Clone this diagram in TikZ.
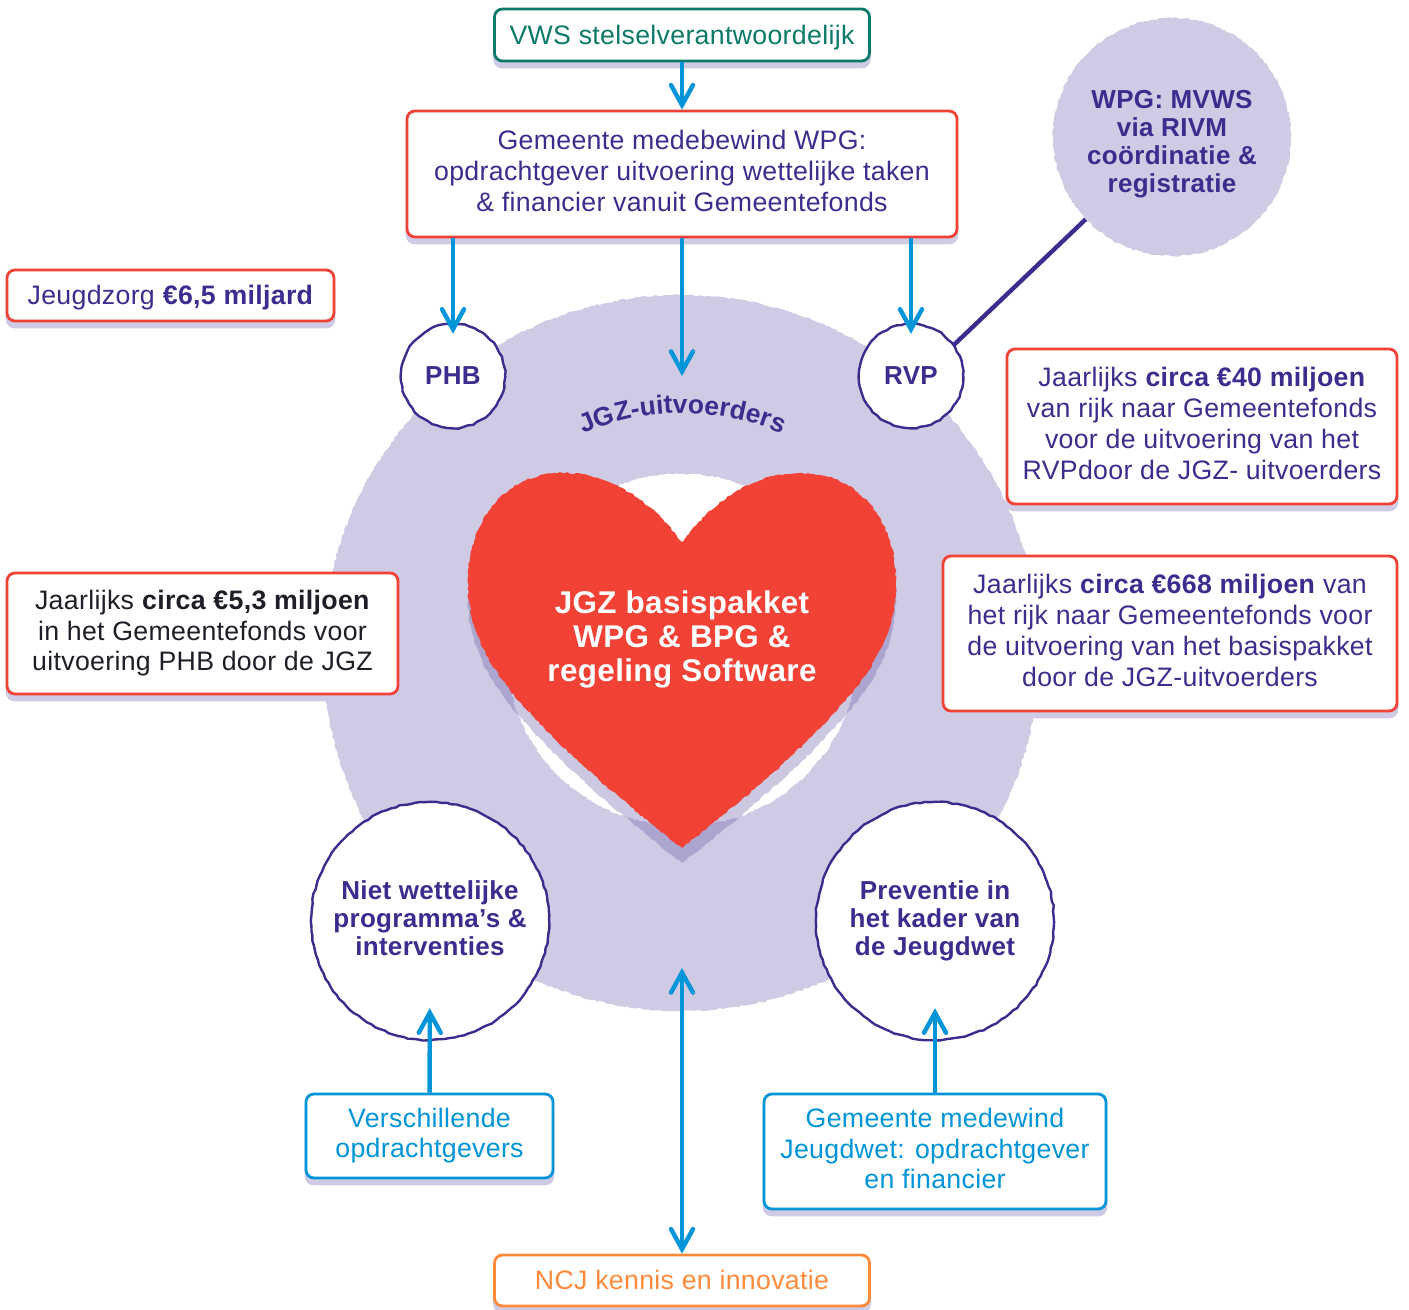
\documentclass[tikz,border=0pt]{standalone}
\usepackage{fontspec}
\setmainfont[LetterSpace=1.2]{Liberation Sans}
\usetikzlibrary{arrows.meta,decorations.pathmorphing,decorations.text}
\definecolor{lila}{HTML}{CFCBE4}
\definecolor{paars}{HTML}{3D2C8D}
\definecolor{rood}{HTML}{F24236}
\definecolor{blauw}{HTML}{0094D9}
\definecolor{groen}{HTML}{0C7A68}
\definecolor{oranje}{HTML}{FF8A3A}
\definecolor{schaduw}{HTML}{6356A7}
\definecolor{zwart}{HTML}{1E1E28}
\newcommand{\regelstut}{\rule[-.2\baselineskip]{0pt}{\baselineskip}}
\pgfmathsetseed{7}
\begin{document}
\begin{tikzpicture}[x=0.5pt,y=-0.5pt,
  ruw/.style={decorate,decoration={random steps,segment length=2.5pt,amplitude=0.35pt}},
  blob/.style={decorate,decoration={random steps,segment length=1.5pt,amplitude=0.45pt}},
  regels/.style={align=center,execute at begin node=\regelstut,execute at end node=\regelstut},
  doos/.style={draw=#1,line width=1.4pt,fill=white,rounded corners=4pt,regels,inner sep=0pt,
    font=\fontsize{13.35}{15.4}\selectfont,
    preaction={draw=lila,fill=lila,transform canvas={yshift=-3pt}}},
  rondje/.style={circle,draw=paars,line width=1.2pt,fill=white,ruw,regels,inner sep=0pt,text=paars,
    font=\fontsize{13}{14}\selectfont\bfseries},
  pijl/.style={draw=blauw,line width=2.2pt,-{Straight Barb[length=10pt,width=11pt,line cap=round]}}]
\useasboundingbox (0,0) rectangle (1409,1310);
\fill[lila,blob] (681,653) circle (358);
\fill[white,blob] (682,650) circle (176);
\def\hartpad{(682,542) .. controls (650,500) and (610,473) .. (563,473)
  .. controls (505,473) and (468,520) .. (468,583)
  .. controls (468,630) and (490,668) .. (520,702)
  .. controls (565,755) and (640,815) .. (682,848)
  .. controls (724,815) and (799,755) .. (844,702)
  .. controls (874,668) and (896,630) .. (896,583)
  .. controls (896,520) and (859,473) .. (801,473)
  .. controls (754,473) and (714,500) .. (682,542) -- cycle}
\begin{scope}[yshift=-7.5pt]
\fill[schaduw,opacity=0.32,blob] \hartpad;
\end{scope}
\fill[rood,blob] \hartpad;
\node[text=white,regels,font=\fontsize{15.7}{17}\selectfont\bfseries] (basispakket) at (682,640) {JGZ basispakket\\WPG \& BPG \&\\regeling Software};
\path[decorate,decoration={text along path,text color=paars,text align=center,
  text={|\fontsize{13.2}{14}\selectfont\bfseries|JGZ-uitvoerders}}]
  (575,438) .. controls (640,405) and (725,405) .. (790,438);

\node[doos=groen,text=groen,minimum width=187.5pt,minimum height=26pt] (vws) at (682,35) {VWS stelselverantwoordelijk};
\node[doos=rood,text=paars,minimum width=275pt,minimum height=63pt] (gem) at (682,174) {Gemeente medebewind WPG:\\opdrachtgever uitvoering wettelijke taken\\\& financier vanuit Gemeentefonds};
\node[doos=rood,text=paars,minimum width=163.5pt,minimum height=25.5pt] (jeugdzorg) at (170.5,295.5) {Jeugdzorg \textbf{€6,5 miljard}};
\node[doos=rood,text=paars,minimum width=195pt,minimum height=77.5pt] (rvpgeld) at (1202,426.5) {Jaarlijks \textbf{circa €40 miljoen}\\van rijk naar Gemeentefonds\\voor de uitvoering van het\\RVPdoor de JGZ- uitvoerders};
\node[doos=rood,text=paars,minimum width=227pt,minimum height=77.5pt] (basisgeld) at (1170,633.5) {Jaarlijks \textbf{circa €668 miljoen} van\\het rijk naar Gemeentefonds voor\\de uitvoering van het basispakket\\door de JGZ-uitvoerders};
\node[doos=rood,text=zwart,minimum width=195.5pt,minimum height=60.5pt] (phbgeld) at (202.5,633.5) {Jaarlijks \textbf{circa €5,3 miljoen}\\in het Gemeentefonds voor\\uitvoering PHB door de JGZ};
\node[doos=blauw,text=blauw,minimum width=123.5pt,minimum height=42pt] (opdr) at (429.5,1136) {Verschillende\\opdrachtgevers};
\node[doos=blauw,text=blauw,minimum width=171pt,minimum height=57.5pt] (medewind) at (935,1151.5) {Gemeente medewind\\Jeugdwet: opdrachtgever\\en financier};
\node[doos=oranje,text=oranje,minimum width=187.5pt,minimum height=25.5pt] (ncj) at (682,1280.5) {NCJ kennis en innovatie};

\node[rondje,minimum size=52pt] (phb) at (453,376) {PHB};
\node[rondje,minimum size=52pt] (rvp) at (911,376) {RVP};
\node[rondje,minimum size=119pt] (niet) at (430,921) {Niet wettelijke\\programma’s \&\\interventies};
\node[rondje,minimum size=119pt] (prev) at (935,921) {Preventie in\\het kader van\\de Jeugdwet};
\node[circle,fill=lila,blob,minimum size=119pt,inner sep=0pt] (wpg) at (1172,137) {};
\node[regels,text=paars,font=\fontsize{13}{14}\selectfont\bfseries] (wpgtekst) at (1172,144) {WPG: MVWS\\via RIVM\\coördinatie \&\\registratie};

\coordinate (uitvoerders) at (682,376);
\coordinate (midden) at (682,968);
\draw[paars,line width=2.2pt] (rvp.36) -- (wpg);
\draw[pijl] (vws) -- (gem);
\draw[pijl,shorten >=-5.5pt] (gem.south -| phb) -- (phb);
\draw[pijl] (gem) -- (uitvoerders);
\draw[pijl,shorten >=-5.5pt] (gem.south -| rvp) -- (rvp);
\draw[pijl,shorten >=-16.5pt] (opdr) -- (niet);
\draw[pijl,shorten >=-16.5pt] (medewind) -- (prev);
\draw[pijl,{Straight Barb[length=10pt,width=11pt,line cap=round]}-{Straight Barb[length=10pt,width=11pt,line cap=round]}] (midden) -- (ncj);
\end{tikzpicture}
\end{document}
